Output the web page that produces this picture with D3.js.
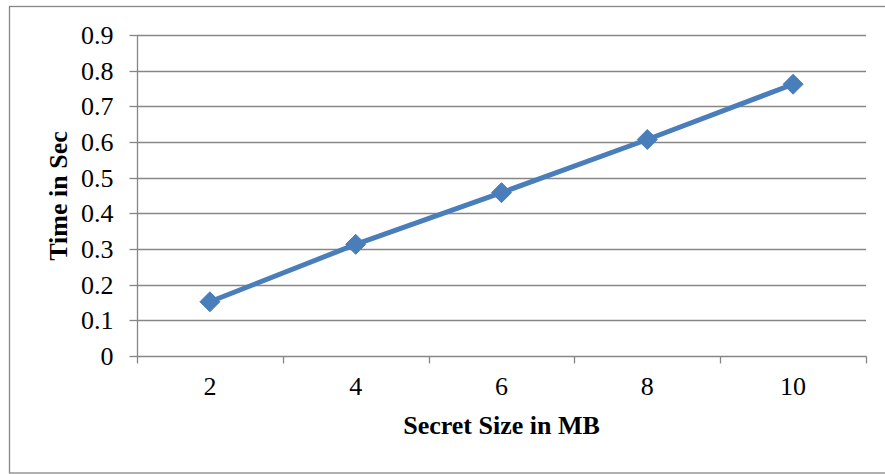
<!DOCTYPE html>
<html>
<head>
<meta charset="utf-8">
<script src="https://cdn.jsdelivr.net/npm/d3@7/dist/d3.min.js"></script>
<style>
html,body{margin:0;padding:0;background:#fff;}
svg{display:block;}
text{font-family:"Liberation Serif","Times New Roman",serif;fill:#000;}
</style>
</head>
<body>
<svg id="chart" width="885" height="474"></svg>
<script>
const categories = ["2", "4", "6", "8", "10"];
const timeValues = [0.152, 0.313, 0.458, 0.607, 0.762];
const yTicks = [0, 0.1, 0.2, 0.3, 0.4, 0.5, 0.6, 0.7, 0.8, 0.9];
const xTitle = "Secret Size in MB";
const yTitle = "Time in Sec";

(function () {
const svg = d3.select("#chart");
const pLeft = 137, pRight = 866, pTop = 35, pBottom = 356;
const fs = "26px";

// outer border
svg.append("rect").attr("x", 9.5).attr("y", 6.5).attr("width", 900).attr("height", 466.5)
  .attr("fill", "none").attr("stroke", "#868686").attr("stroke-width", 1.3);

const x = d3.scaleBand().domain(categories).range([pLeft, pRight]).padding(0);
const y = d3.scaleLinear().domain([0, 0.9]).range([pBottom, pTop]);

// gridlines
svg.append("g").selectAll("line").data(yTicks.filter(d => d > 0)).join("line")
  .attr("x1", pLeft).attr("x2", pRight)
  .attr("y1", d => Math.round(y(d)) + 0.5).attr("y2", d => Math.round(y(d)) + 0.5)
  .attr("stroke", "#868686").attr("stroke-width", 1.3);

// y axis
const yAxis = d3.axisLeft(y).tickValues(yTicks).tickSize(8).tickPadding(16)
  .tickFormat(d => d === 0 ? "0" : d3.format(".1f")(d));
const gy = svg.append("g").attr("transform", `translate(${pLeft + 0.5},0)`).call(yAxis);
gy.attr("font-family", null).attr("font-size", null);
gy.select(".domain").attr("stroke", "#868686").attr("stroke-width", 1.3).attr("d", `M0,${pTop}V${pBottom}`);
gy.selectAll(".tick line").attr("stroke", "#868686").attr("stroke-width", 1.3);
gy.selectAll(".tick").attr("transform", d => `translate(0,${Math.round(y(d)) + 0.5})`);
gy.selectAll(".tick text").style("font-size", fs).attr("fill", "#000").attr("dy", "0.33em");

// x axis (ticks between categories)
const gx = svg.append("g").attr("transform", `translate(0,${pBottom + 0.5})`);
gx.append("line").attr("x1", pLeft).attr("x2", pRight + 0.5).attr("y1", 0).attr("y2", 0)
  .attr("stroke", "#868686").attr("stroke-width", 1.3);
const boundaries = categories.map(c => x(c)).concat([x(categories[categories.length - 1]) + x.bandwidth()]);
gx.selectAll("line.tk").data(boundaries).join("line").attr("class", "tk")
  .attr("x1", d => Math.round(d) + 0.5).attr("x2", d => Math.round(d) + 0.5)
  .attr("y1", 0).attr("y2", 7).attr("stroke", "#868686").attr("stroke-width", 1.3);
gx.selectAll("text").data(categories).join("text")
  .attr("x", d => x(d) + x.bandwidth() / 2).attr("y", 38.5)
  .attr("text-anchor", "middle").style("font-size", fs).text(d => d);

// line
const pts = categories.map((c, i) => [x(c) + x.bandwidth() / 2, y(timeValues[i])]);
svg.append("path").datum(pts).attr("d", d3.line())
  .attr("fill", "none").attr("stroke", "#4a7ebb").attr("stroke-width", 5)
  .attr("stroke-linejoin", "round");

// diamond markers
svg.append("g").selectAll("path").data(pts).join("path")
  .attr("transform", d => `translate(${d[0]},${d[1]})`)
  .attr("d", "M0,-10L10,0L0,10L-10,0Z")
  .attr("fill", "#4a7ebb").attr("stroke", "#4a7ebb").attr("stroke-width", 1);

// axis titles
svg.append("text").attr("x", (pLeft + pRight) / 2).attr("y", 434)
  .attr("text-anchor", "middle").style("font-size", fs).style("font-weight", "bold").text(xTitle);
svg.append("text").attr("transform", `translate(67,196) rotate(-90)`)
  .attr("text-anchor", "middle").style("font-size", fs).style("font-weight", "bold").text(yTitle);
})();
</script>
</body>
</html>
